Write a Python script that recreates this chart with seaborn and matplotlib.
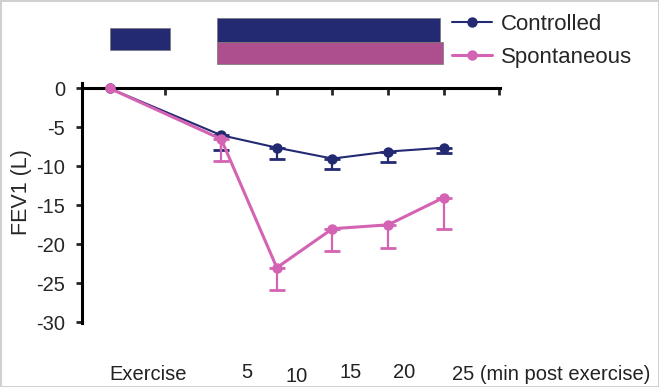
import pandas as pd
import matplotlib.pyplot as plt
import seaborn as sns
from matplotlib.patches import Rectangle

# data
time_min = [-5, 5, 10, 15, 20, 25]          # -5 = exercise
controlled = [0, -6.0, -7.6, -9.0, -8.1, -7.6]
controlled_err = [0, 1.9, 1.4, 1.3, 1.4, 0.7]
spontaneous = [0, -6.5, -23.0, -18.0, -17.5, -14.0]
spontaneous_err = [0, 2.8, 2.9, 2.9, 3.0, 4.0]

tick_pos = [0, 10, 15, 20, 25, 30]
x_labels = ['Exercise', '5', '10', '15', '20', '25 (min post exercise)']

# breathing periods drawn above the plot (start, end)
ctrl_periods = [(-5, 0.4), (4.6, 24.7)]
spont_periods = [(4.6, 24.9)]

navy = '#232a72'
pink = '#d563b3'
pink_bar = '#ad4f8f'

sns.set_style('ticks')
plt.rcParams['font.family'] = ['Liberation Sans', 'DejaVu Sans']
plt.rcParams['axes.unicode_minus'] = False

df = pd.DataFrame({
    'time': time_min * 2,
    'fev1': controlled + spontaneous,
    'group': ['Controlled'] * 6 + ['Spontaneous'] * 6,
})

fig = plt.figure(figsize=(6.59, 3.87), dpi=100, edgecolor='#d0d0d0', linewidth=2)
ax = fig.add_axes([82 / 659, 1 - 323 / 387, 418 / 659, 240 / 387])

# error bars (lower side only)
ax.errorbar(time_min, controlled, yerr=[controlled_err, [0] * 6], fmt='none',
            ecolor=navy, elinewidth=1.6, capsize=5.5, capthick=2, zorder=2)
ax.errorbar(time_min, spontaneous, yerr=[spontaneous_err, [0] * 6], fmt='none',
            ecolor=pink, elinewidth=1.6, capsize=5.5, capthick=2, zorder=2)

sns.lineplot(data=df[df['group'] == 'Controlled'], x='time', y='fev1', color=navy,
             marker='o', markersize=7.5, markeredgewidth=0, linewidth=1.5,
             label='Controlled', ax=ax, zorder=3)
sns.lineplot(data=df[df['group'] == 'Spontaneous'], x='time', y='fev1', color=pink,
             marker='o', markersize=7.5, markeredgewidth=0, linewidth=2.2,
             label='Spontaneous', ax=ax, zorder=4)

ax.set_xlim(-7.5, 30.05)
ax.set_ylim(-30.1, 0.7)
ax.set_xticks(tick_pos)
ax.set_xticklabels([])
ax.set_yticks(range(0, -31, -5))
ax.set_xlabel('')
ax.set_ylabel('FEV1 (L)', fontsize=15.5)
ax.yaxis.set_label_coords((32 - 82) / 418, (323 - 192) / 240)
ax.tick_params(axis='y', labelsize=14.5, length=4, width=2, pad=8)
ax.tick_params(axis='x', length=5, width=2)

ax.spines['bottom'].set_position(('data', 0))
for s in ['left', 'bottom']:
    ax.spines[s].set_linewidth(2.2)
    ax.spines[s].set_color('black')
ax.spines['top'].set_visible(False)
ax.spines['right'].set_visible(False)

# period bars above the axes
for a, b in ctrl_periods:
    top = 9.1 if a > 0 else 7.8
    h = 3.1 if a > 0 else 2.9
    ax.add_patch(Rectangle((a, top - h), b - a, h, facecolor=navy,
                           edgecolor='#777777', linewidth=0.5, clip_on=False))
for a, b in spont_periods:
    ax.add_patch(Rectangle((a, 3.1), b - a, 2.9, facecolor=pink_bar,
                           edgecolor='#777777', linewidth=0.5, clip_on=False))

ax.legend(loc='upper left', bbox_to_anchor=(452 / 659, 1 - 14 / 387),
          bbox_transform=fig.transFigure, frameon=False, fontsize=16,
          handlelength=1.8, handletextpad=0.4, labelspacing=0.55,
          borderpad=0, borderaxespad=0)

# x labels written under the plot
label_x = [148, 247, 297, 351, 404, 452]
label_y = [374, 373, 377, 373, 373, 374]
for i, t in enumerate(x_labels):
    ha = 'left' if i == len(x_labels) - 1 else 'center'
    fig.text(label_x[i] / 659, 1 - label_y[i] / 387, t, fontsize=14.5,
             ha=ha, va='center', color='#222222')

fig.savefig('out.png', dpi=100)
